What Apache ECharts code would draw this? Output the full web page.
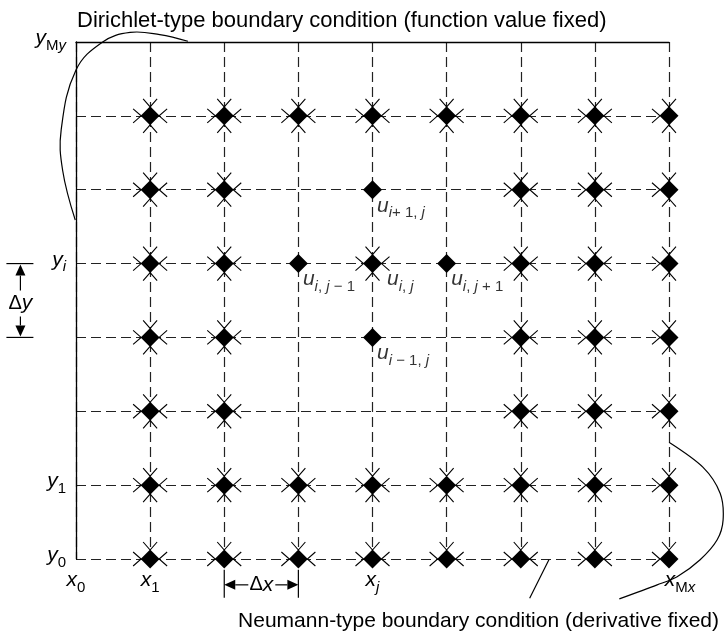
<!DOCTYPE html>
<html>
<head>
<meta charset="utf-8">
<title>Finite difference grid</title>
<script src="https://cdn.jsdelivr.net/npm/echarts@6/dist/echarts.min.js"></script>
<style>
    html, body { margin: 0; padding: 0; background: #fff; }
    #grid { width: 724px; height: 634px; }
</style>
</head>
<body>
<div id="grid"></div>
<script>
    // grid extent in node indices
    var xMax = 8, yMax = 7;
    var nodeCols = [1, 2, 3, 4, 5, 6, 7, 8];
    var nodeRows = [0, 1, 2, 3, 4, 5, 6];
    // stencil nodes (no arrows) and the nodes left out around them
    var plainNodes = [[4, 5], [3, 4], [5, 4], [4, 3]];
    var emptyNodes = [[3, 5], [5, 5], [3, 3], [5, 3], [3, 2], [4, 2], [5, 2]];

    var xTickLabels = {0: '{v|x}{s|0}', 1: '{v|x}{s|1}', 4: '{v|x}{si|j}', 8: '{vp|x}{s|M}{si|x}'};
    var yTickLabels = {0: '{v|y}{s|0}', 1: '{v|y}{s|1}', 4: '{v|y}{si|i}', 7: '{v|y}{s|M}{si|y}'};

    var stencilLabels = [
        [4, 5, '{v|u}{si|i}{s|+ 1, }{si|j}'],
        [3, 4, '{v|u}{si|i}{s|, }{si|j}{s| \u2212 1}'],
        [4, 4, '{v|u}{si|i}{s|, }{si|j}'],
        [5, 4, '{v|u}{si|i}{s|, }{si|j}{s| + 1}'],
        [4, 3, '{v|u}{si|i}{s| \u2212 1, }{si|j}']
    ];

    // leader curves of the two captions (grid units)
    var dirichletX = [1.51, 1.13, 0.73, 0.36, 0, -0.2, -0.18, -0.01];
    var dirichletY = [7.01, 7.10, 7.13, 7.0, 6.62, 5.81, 5.26, 4.59];
    var neumannX = [8.0, 8.46, 8.69, 8.73, 8.65, 8.42, 8.11, 7.84, 7.33];
    var neumannY = [1.58, 1.24, 0.89, 0.53, 0.26, -0.01, -0.24, -0.35, -0.54];
    var neumannTickX = [6.38, 6.12];
    var neumannTickY = [-0.01, -0.53];

    // spacing markers
    var deltaXSpan = [2, 3];
    var deltaYSpan = [3, 4];
    var deltaXLevel = -0.35;
    var deltaYLevel = -0.75;

    var FONT = 'Liberation Sans, Arial, sans-serif';
    var mathRich = {
        v: {fontFamily: FONT, fontStyle: 'italic', fontSize: 21, lineHeight: 22, padding: [0, 0, 4, 0], verticalAlign: 'bottom', color: '#000'},
        vp: {fontFamily: FONT, fontStyle: 'italic', fontSize: 21, lineHeight: 22, padding: [0, 0, 4, 22], verticalAlign: 'bottom', color: '#000'},
        s: {fontFamily: FONT, fontSize: 15, lineHeight: 15, verticalAlign: 'bottom', color: '#000'},
        si: {fontFamily: FONT, fontStyle: 'italic', fontSize: 15, lineHeight: 15, verticalAlign: 'bottom', color: '#000'}
    };

    function inList(list, x, y) {
        for (var k = 0; k < list.length; k++) {
            if (list[k][0] === x && list[k][1] === y) return true;
        }
        return false;
    }

    var nodeData = [];
    nodeRows.forEach(function (r) {
        nodeCols.forEach(function (c) {
            if (inList(emptyNodes, c, r)) return;
            nodeData.push([c, r, inList(plainNodes, c, r) ? 0 : 1]);
        });
    });

    var labelData = stencilLabels.map(function (d) {
        return {
            value: [d[0], d[1]],
            label: {
                show: true,
                formatter: d[2],
                position: [inList(plainNodes, d[0], d[1]) ? 5 : 15, 9],
                align: 'left',
                verticalAlign: 'top',
                rich: mathRich
            }
        };
    });

    function pairs(xs, ys) {
        return xs.map(function (x, k) { return [x, ys[k]]; });
    }

    function renderNode(params, api) {
        var gx = api.value(0), gy = api.value(1), arrows = api.value(2);
        var c = api.coord([gx, gy]);
        var r = 9.5;
        var children = [{
            type: 'polygon',
            shape: {points: [[c[0], c[1] - r], [c[0] + r, c[1]], [c[0], c[1] + r], [c[0] - r, c[1]]]},
            style: {fill: '#000'}
        }];
        if (arrows) {
            var dirs = [[-1, 0], [0, -1]];
            if (gx < xMax) dirs.push([1, 0]);
            if (gy > 0) dirs.push([0, 1]);
            dirs.forEach(function (d) {
                var tip = [c[0] + d[0] * 9, c[1] + d[1] * 9];
                var bx = c[0] + d[0] * 17, by = c[1] + d[1] * 17;
                var px = d[1] * 7, py = d[0] * 7;
                children.push({
                    type: 'polyline',
                    shape: {points: [[bx + px, by + py], tip, [bx - px, by - py]]},
                    style: {stroke: '#000', lineWidth: 1.1, fill: null}
                });
            });
        }
        return {type: 'group', children: children};
    }

    // a leader curve drawn once, from all of its points
    function curveRenderer(points, smooth) {
        return function (params, api) {
            if (params.dataIndex !== 0) return;
            var pts = points.map(function (p) { return api.coord(p); });
            return {
                type: 'polyline',
                shape: {points: pts, smooth: smooth},
                style: {stroke: '#000', lineWidth: 1.2, fill: null}
            };
        };
    }

    var lineStyle = {stroke: '#000', lineWidth: 1.2};
    var deltaRich = {
        d: {fontFamily: FONT, fontSize: 20, fill: '#000'},
        v: {fontFamily: FONT, fontStyle: 'italic', fontSize: 21, fill: '#000'}
    };

    function renderDeltaX(params, api) {
        var a = api.coord([api.value(0), deltaXLevel]);
        var b = api.coord([api.value(1), deltaXLevel]);
        var y = a[1], mid = (a[0] + b[0]) / 2;
        return {type: 'group', children: [
            {type: 'line', shape: {x1: a[0], y1: y - 15, x2: a[0], y2: y + 13}, style: lineStyle},
            {type: 'line', shape: {x1: b[0], y1: y - 15, x2: b[0], y2: y + 13}, style: lineStyle},
            {type: 'polygon', shape: {points: [[a[0], y], [a[0] + 11, y - 5], [a[0] + 11, y + 5]]}, style: {fill: '#000'}},
            {type: 'line', shape: {x1: a[0] + 11, y1: y, x2: mid - 13, y2: y}, style: lineStyle},
            {type: 'text', style: {text: '{d|\u0394}{v|x}', x: mid, y: y, align: 'center', verticalAlign: 'middle', rich: deltaRich}},
            {type: 'line', shape: {x1: mid + 14, y1: y, x2: b[0] - 11, y2: y}, style: lineStyle},
            {type: 'polygon', shape: {points: [[b[0], y], [b[0] - 11, y - 5], [b[0] - 11, y + 5]]}, style: {fill: '#000'}}
        ]};
    }

    function renderDeltaY(params, api) {
        var a = api.coord([deltaYLevel, api.value(1)]);
        var b = api.coord([deltaYLevel, api.value(0)]);
        var x = a[0], mid = (a[1] + b[1]) / 2 + 3;
        return {type: 'group', children: [
            {type: 'line', shape: {x1: x - 14, y1: a[1], x2: x + 13, y2: a[1]}, style: lineStyle},
            {type: 'line', shape: {x1: x - 14, y1: b[1], x2: x + 13, y2: b[1]}, style: lineStyle},
            {type: 'polygon', shape: {points: [[x, a[1] + 1], [x - 5, a[1] + 12], [x + 5, a[1] + 12]]}, style: {fill: '#000'}},
            {type: 'line', shape: {x1: x, y1: a[1] + 12, x2: x, y2: mid - 13}, style: lineStyle},
            {type: 'text', style: {text: '{d|\u0394}{v|y}', x: x, y: mid, align: 'center', verticalAlign: 'middle', rich: deltaRich}},
            {type: 'line', shape: {x1: x, y1: mid + 13, x2: x, y2: b[1] - 12}, style: lineStyle},
            {type: 'polygon', shape: {points: [[x, b[1] - 1], [x - 5, b[1] - 12], [x + 5, b[1] - 12]]}, style: {fill: '#000'}}
        ]};
    }

    var dashed = {type: [10, 5], color: '#222', width: 1.2};

    var dirichletPts = pairs(dirichletX, dirichletY);
    var neumannPts = pairs(neumannX, neumannY);
    var neumannTickPts = pairs(neumannTickX, neumannTickY);

    var chart = echarts.init(document.getElementById('grid'), null, {renderer: 'canvas'});
    chart.setOption({
        animation: false,
        title: [{
            text: 'Dirichlet-type boundary condition (function value fixed)', left: 72, top: 5,
            textStyle: {fontFamily: FONT, fontSize: 22, fontWeight: 'normal', color: '#000'}
        }, {
            text: 'Neumann-type boundary condition (derivative fixed)', right: 0, top: 606,
            textStyle: {fontFamily: FONT, fontSize: 21, fontWeight: 'normal', color: '#000'}
        }],
        grid: {left: 76, right: 55, top: 42, bottom: 75},
        xAxis: [{
            type: 'value', min: 0, max: xMax, interval: 1, position: 'bottom',
            axisLine: {show: false}, axisTick: {show: false},
            splitLine: {show: true, lineStyle: dashed},
            axisLabel: {
                margin: 14, rich: mathRich,
                formatter: function (v) { return xTickLabels[v] || ''; }
            }
        }, {
            type: 'value', min: 0, max: xMax, position: 'top',
            axisLine: {show: true, onZero: false, lineStyle: {color: '#000', width: 1.3}},
            axisTick: {show: false}, axisLabel: {show: false}, splitLine: {show: false}
        }],
        yAxis: {
            type: 'value', min: 0, max: yMax, interval: 1,
            axisLine: {show: true, lineStyle: {color: '#000', width: 1.3}},
            axisTick: {show: false},
            splitLine: {show: true, lineStyle: dashed},
            axisLabel: {
                margin: 10, rich: mathRich,
                formatter: function (v) { return yTickLabels[v] || ''; }
            }
        },
        series: [{
            type: 'custom', renderItem: renderNode, data: nodeData, z: 5
        }, {
            type: 'scatter', data: labelData, symbolSize: 1,
            itemStyle: {color: 'rgba(0,0,0,0)'}, z: 6
        }, {
            type: 'custom', renderItem: curveRenderer(dirichletPts, 0.4), data: dirichletPts, clip: false
        }, {
            type: 'custom', renderItem: curveRenderer(neumannPts, 0.3), data: neumannPts, clip: false
        }, {
            type: 'custom', renderItem: curveRenderer(neumannTickPts, 0), data: neumannTickPts, clip: false
        }, {
            type: 'custom', renderItem: renderDeltaX, data: [deltaXSpan], clip: false
        }, {
            type: 'custom', renderItem: renderDeltaY, data: [deltaYSpan], clip: false
        }]
    });
</script>
</body>
</html>
